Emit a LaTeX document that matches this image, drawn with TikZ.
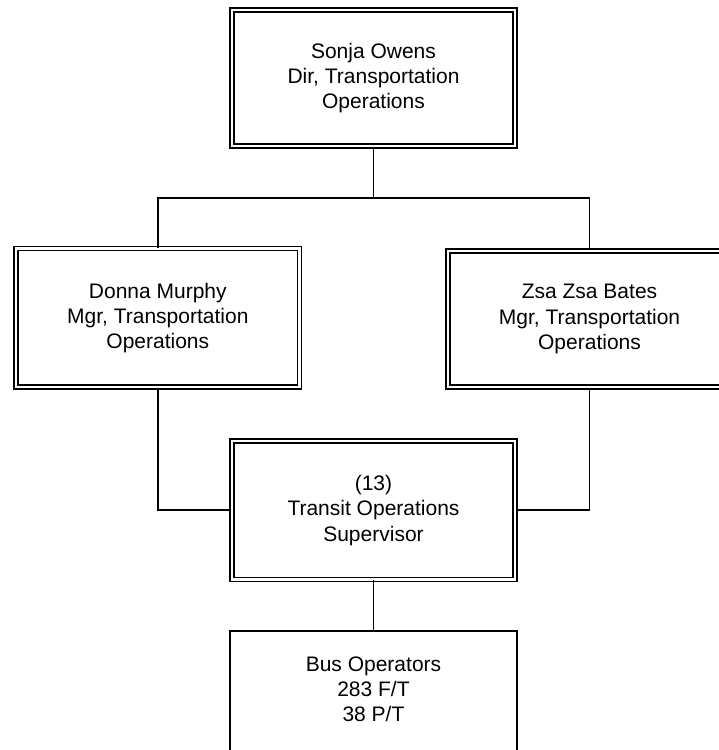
\documentclass[tikz,border=0pt]{standalone}
\usepackage{fontspec}
\setmainfont{Liberation Sans}
\begin{document}
\begin{tikzpicture}[x=1pt,y=-1pt,
  dbox/.style={draw=black, double=white, double distance=2.2pt, line width=1.7pt,
    inner sep=0pt, align=center, font=\fontsize{21}{25.3}\selectfont},
  sbox/.style={draw=black, line width=1.9pt, inner sep=0pt},
  txt/.style={inner sep=0pt, align=center, font=\fontsize{21}{25.3}\selectfont},
  conn/.style={draw=black, line width=1.9pt}]
\useasboundingbox (0,0) rectangle (719,750);
\fill[white] (0,0) rectangle (719,750);
\clip (0,0) rectangle (719,750);

\node[dbox, minimum width=282.8pt, minimum height=136.1pt] (top) at (373.5,78.2)
  {Sonja Owens\\Dir, Transportation\\Operations};
\node[dbox, minimum width=283.4pt, minimum height=138.7pt] (donna) at (157.8,317.9)
  {Donna Murphy\\Mgr, Transportation\\Operations};
\node[dbox, minimum width=283.4pt, minimum height=136.1pt] (zsa) at (589.5,319.2)
  {Zsa Zsa Bates\\Mgr, Transportation\\Operations};
\node[dbox, minimum width=282.8pt, minimum height=138.4pt] (sup) at (373.5,510.3)
  {(13)\\Transit Operations\\Supervisor};
\node[sbox, anchor=north, minimum width=287.4pt, minimum height=140pt] (bus) at (373.5,630.2) {};
\node[txt] (bustext) at (373.5,689.3) {Bus Operators\\283 F/T\\38 P/T};

\coordinate (j) at (373.5,198.3);
\draw[conn] (top.south) -- (j);
\draw[conn] (donna.north) |- (j) -| (zsa.north);
\draw[conn] (donna.south) |- (sup.west);
\draw[conn] (zsa.south) |- (sup.east);
\draw[conn] (sup.south) -- (bus.north);
\end{tikzpicture}
\end{document}
